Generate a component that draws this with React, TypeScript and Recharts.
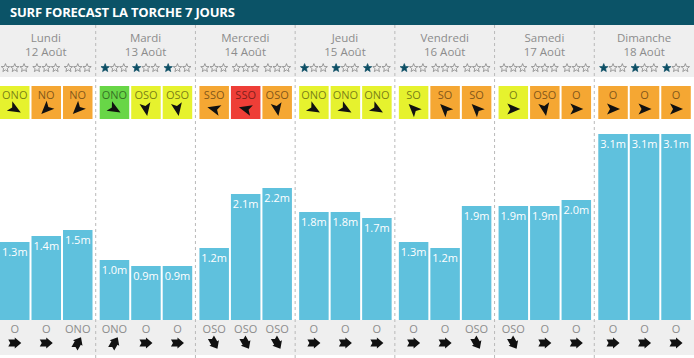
import React from 'react';
import { BarChart, Bar, XAxis, YAxis, LabelList } from 'recharts';

const days = ['Lundi', 'Mardi', 'Mercredi', 'Jeudi', 'Vendredi', 'Samedi', 'Dimanche'];
const dates = ['12 Août', '13 Août', '14 Août', '15 Août', '16 Août', '17 Août', '18 Août'];
const waveHeights = [
  [1.3, 1.4, 1.5],
  [1.0, 0.9, 0.9],
  [1.2, 2.1, 2.2],
  [1.8, 1.8, 1.7],
  [1.3, 1.2, 1.9],
  [1.9, 1.9, 2.0],
  [3.1, 3.1, 3.1],
];
const starRatings = [
  [0, 0, 0],
  [1, 1, 1],
  [0, 0, 0],
  [1, 1, 1],
  [1, 0, 0],
  [0, 0, 0],
  [1, 1, 1],
];
const windDirs = [
  ['ONO', 'NO', 'NO'],
  ['ONO', 'OSO', 'OSO'],
  ['SSO', 'SSO', 'OSO'],
  ['ONO', 'ONO', 'ONO'],
  ['SO', 'SO', 'SO'],
  ['O', 'OSO', 'O'],
  ['O', 'O', 'O'],
];
// 0 = green, 1 = yellow, 2 = orange, 3 = red
const windLevels = [
  [1, 2, 2],
  [0, 1, 1],
  [2, 3, 2],
  [1, 1, 1],
  [1, 2, 2],
  [1, 2, 2],
  [2, 2, 2],
];
const swellDirs = [
  ['O', 'O', 'ONO'],
  ['ONO', 'O', 'O'],
  ['OSO', 'OSO', 'OSO'],
  ['O', 'O', 'O'],
  ['O', 'O', 'OSO'],
  ['OSO', 'O', 'O'],
  ['O', 'O', 'O'],
];

const windColors = ['#68d647', '#e6f22e', '#f5a733', '#ee3e37'];
const windArrowAngles: Record<string, number> = { O: 0, ONO: 30, NO: 135, OSO: 80, SSO: 195, SO: 225 };
const swellArrowAngles: Record<string, number> = { O: 0, ONO: -60, OSO: 60 };

const FONT = "'Open Sans', 'Noto Sans', sans-serif";

const data = days.map((d, i) => ({
  day: d,
  s0: waveHeights[i][0],
  s1: waveHeights[i][1],
  s2: waveHeights[i][2],
}));

function starPoints(cx: number, cy: number, R: number, r: number) {
  const pts: string[] = [];
  for (let j = 0; j < 10; j++) {
    const rad = j % 2 === 0 ? R : r;
    const a = -Math.PI / 2 + (j * Math.PI) / 5;
    pts.push(`${(cx + rad * Math.cos(a)).toFixed(2)},${(cy + rad * Math.sin(a)).toFixed(2)}`);
  }
  return pts.join(' ');
}

const DayTick = (props: any) => {
  const { x, payload } = props;
  const i = payload.index ?? days.indexOf(payload.value);
  const half = payload.offset || 49.857;
  const left = x - half;
  return (
    <g>
      <line x1={left} x2={left} y1={25} y2={358} stroke="#b9b9b9" strokeDasharray="3 3" strokeWidth={1} />
      <text x={x} y={42} textAnchor="middle" fontFamily={FONT} fontSize={11.5} fill="#8c8c8c">
        {payload.value}
      </text>
      <text x={x} y={56} textAnchor="middle" fontFamily={FONT} fontSize={11.5} fill="#8c8c8c">
        {dates[i]}
      </text>
    </g>
  );
};

const makeSlot = (k: number) => (props: any) => {
  const vb = props.viewBox || {};
  const x = props.x ?? vb.x;
  const y = props.y ?? vb.y;
  const w = props.width ?? vb.width;
  const i = props.index;
  if (x == null || i == null) return null;
  const cx = x + w / 2;
  const rating = starRatings[i][k];
  const wd = windDirs[i][k];
  const sd = swellDirs[i][k];
  const v = waveHeights[i][k];
  return (
    <g>
      {[0, 1, 2].map((s) => (
        <polygon
          key={s}
          points={starPoints(cx + (s - 1) * 9.3, 68, 4.4, 1.9)}
          fill={s < rating ? '#0d4f65' : 'none'}
          stroke={s < rating ? '#0d4f65' : '#7a7a7a'}
          strokeWidth={0.7}
        />
      ))}
      <rect x={x} y={86} width={w} height={33} fill={windColors[windLevels[i][k]]} />
      <text x={cx} y={99} textAnchor="middle" fontFamily={FONT} fontSize={11} fill="rgba(0,0,0,0.5)">
        {wd}
      </text>
      <path
        d="M7,0 L-6,-5.5 L-3,0 L-6,5.5 Z"
        fill="#111"
        transform={`translate(${cx},${109}) rotate(${windArrowAngles[wd] ?? 0})`}
      />
      <text x={cx} y={y + 14} textAnchor="middle" fontFamily={FONT} fontSize={11} fill="#ffffff">
        {`${v.toFixed(1)}m`}
      </text>
      <text x={cx} y={333} textAnchor="middle" fontFamily={FONT} fontSize={11} fill="#8c8c8c">
        {sd}
      </text>
      <path
        d="M-6.5,-3.5 L0,-3.5 L0,-5.5 L6.5,0 L0,5.5 L0,3.5 L-6.5,3.5 L-4.5,0 Z"
        fill="#111"
        transform={`translate(${cx},${343}) rotate(${swellArrowAngles[sd] ?? 0})`}
      />
    </g>
  );
};

export default function App() {
  return (
    <div style={{ position: 'absolute', left: 0, top: 0, width: 694, height: 358, overflow: 'hidden', background: '#ffffff' }}>
      <div
        style={{
          position: 'absolute', left: 0, top: 0, width: 694, height: 25, background: '#0b5367',
          color: '#ffffff', fontFamily: FONT, fontWeight: 700, fontSize: 13, lineHeight: '25px',
          paddingLeft: 10, boxSizing: 'border-box', letterSpacing: -0.2,
        }}
      >
        SURF FORECAST LA TORCHE 7 JOURS
      </div>
      <div style={{ position: 'absolute', left: 0, top: 25, width: 694, height: 52, background: '#efefef' }} />
      <div style={{ position: 'absolute', left: 0, top: 320, width: 694, height: 35, background: '#efefef' }} />
      <div style={{ position: 'absolute', left: -4, top: 0 }}>
        <BarChart
          width={698}
          height={358}
          data={data}
          margin={{ top: 50, right: 0, bottom: 38, left: 0 }}
          barSize={29.5}
          barGap={2}
          barCategoryGap={0}
        >
          <XAxis
            dataKey="day"
            orientation="top"
            height={30}
            axisLine={false}
            tickLine={false}
            interval={0}
            tick={<DayTick />}
          />
          <YAxis hide domain={[0, 4]} type="number" />
          {[0, 1, 2].map((k) => (
            <Bar key={k} dataKey={`s${k}`} fill="#5fc1dd" isAnimationActive={false}>
              <LabelList dataKey={`s${k}`} content={makeSlot(k)} />
            </Bar>
          ))}
        </BarChart>
      </div>
    </div>
  );
}
